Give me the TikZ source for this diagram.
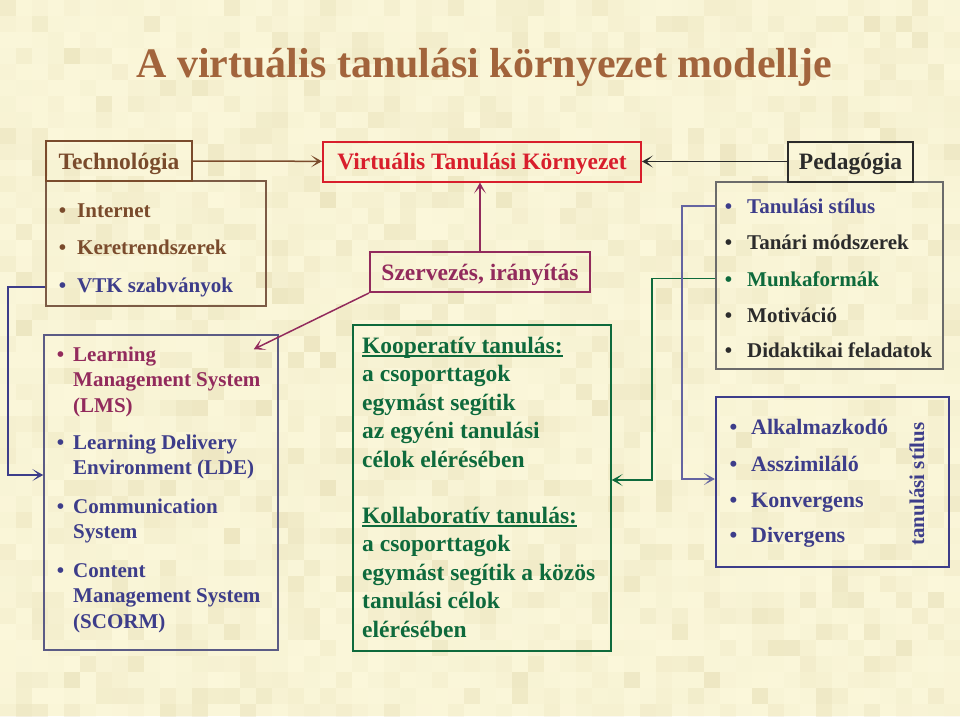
\documentclass[tikz,border=0pt]{standalone}
\usepackage{fontspec}
\setmainfont{Liberation Serif}
\usetikzlibrary{arrows.meta}
\definecolor{paper}{HTML}{FBF7DA}
\definecolor{mottle}{HTML}{D6CB98}
\definecolor{brownc}{HTML}{7A4B2C}
\definecolor{titlec}{HTML}{A2643C}
\definecolor{bluec}{HTML}{3D3D8A}
\definecolor{redc}{HTML}{D81E2C}
\definecolor{plumc}{HTML}{922A5C}
\definecolor{greenc}{HTML}{0E6A3C}
\definecolor{darkc}{HTML}{2B2B2B}
\newcommand\itembul[1][11pt]{\llap{\textbullet\hspace{#1}}}
\newcommand\ulbox[1]{\setbox0\hbox{#1}\rlap{\rule[-3.5pt]{\wd0}{1.3pt}}\box0}
\begin{document}
\begin{tikzpicture}[x=1pt,y=-1pt,
  head/.style={draw, line width=2pt, inner sep=0pt, minimum height=40pt,
    text height=20pt, text depth=4pt,
    font=\fontsize{23.5}{28}\selectfont\bfseries},
  panel/.style={draw, line width=1.5pt, inner sep=0pt},
  entry/.style={anchor=base west, align=left, inner sep=0pt,
    font=\fontsize{21}{25.5}\selectfont\bfseries},
  note/.style={anchor=base west, align=left, inner sep=0pt, text=greenc,
    font=\fontsize{23.5}{28.5}\selectfont\bfseries},
  link/.style={line width=1.5pt, -{Stealth[length=11pt,width=12pt,inset=6.5pt]}}
]
% background
\useasboundingbox (0,0) rectangle (960,716);
\fill[paper] (0,0) rectangle (960,716);
\pgfmathsetseed{11}
\foreach \i in {0,...,59}{
  \foreach \j in {0,...,44}{
    \pgfmathsetmacro\op{0.38*rnd*rnd}
    \fill[mottle, opacity=\op] (\i*16,\j*16) rectangle ++(16,16);
  }
}

% title
\node[anchor=base, text=titlec, font=\fontsize{42}{50}\selectfont\bfseries] (title) at (484,77)
  {A virtuális tanulási környezet modellje};

% panels
\node[panel, draw=brownc!70!gray, minimum width=220pt, minimum height=125pt] (techlist) at (156,243.5) {};
\node[panel, draw=bluec!55!gray, minimum width=234pt, minimum height=315pt] (lms) at (161,492.5) {};
\node[panel, draw=greenc, minimum width=258pt, minimum height=326pt] (koop) at (482,488) {};
\node[panel, draw=darkc!70, minimum width=227pt, minimum height=187pt] (pedlist) at (829.5,275.5) {};
\node[panel, draw=bluec, line width=2.2pt, minimum width=233pt, minimum height=170pt] (stilus) at (832.5,482) {};

% headers
\node[head, draw=brownc, text=brownc, minimum width=146pt] (tech) at (119,161) {Technológia};
\node[head, draw=redc, text=redc, minimum width=318pt] (vtk) at (482,161.5) {Virtuális Tanulási Környezet};
\node[head, draw=darkc, text=darkc, minimum width=125pt] (ped) at (850.5,161.5) {Pedagógia};
\node[head, draw=plumc, text=plumc, minimum width=220pt] (szerv) at (480,272) {Szervezés, irányítás};

% technology items
\node[entry, text=brownc] (t1) at (77,217) {\itembul Internet};
\node[entry, text=brownc] (t2) at (77,254) {\itembul Keretrendszerek};
\node[entry, text=bluec]  (t3) at (77,292) {\itembul VTK szabványok};

% system items (base = last line)
\node[entry, text=plumc] (l1) at (73,412) {\itembul[9pt]Learning\\Management System\\(LMS)};
\node[entry, text=bluec] (l2) at (73,474.5) {\itembul[9pt]Learning Delivery\\Environment (LDE)};
\node[entry, text=bluec] (l3) at (73,538.5) {\itembul[9pt]Communication\\System};
\node[entry, text=bluec] (l4) at (73,628) {\itembul[9pt]Content\\Management System\\(SCORM)};

% work forms (base = last line)
\node[note] (k1) at (362,467) {\ulbox{Kooperatív tanulás:}\\a csoporttagok\\egymást segítik\\az egyéni tanulási\\célok elérésében};
\node[note] (k2) at (362,637) {\ulbox{Kollaboratív tanulás:}\\a csoporttagok\\egymást segítik a közös\\tanulási célok\\elérésében};

% pedagogy items
\node[entry, text=bluec]  (p1) at (747,213) {\itembul[15pt]Tanulási stílus};
\node[entry, text=darkc]  (p2) at (747,249) {\itembul[15pt]Tanári módszerek};
\node[entry, text=greenc] (p3) at (747,286) {\itembul[15pt]Munkaformák};
\node[entry, text=darkc]  (p4) at (747,322) {\itembul[15pt]Motiváció};
\node[entry, text=darkc]  (p5) at (747,357) {\itembul[15pt]Didaktikai feladatok};

% learning styles
\node[entry, text=bluec, font=\fontsize{22}{26}\selectfont\bfseries] (s1) at (751,434) {\itembul[14pt]Alkalmazkodó};
\node[entry, text=bluec, font=\fontsize{22}{26}\selectfont\bfseries] (s2) at (751,471) {\itembul[14pt]Asszimiláló};
\node[entry, text=bluec, font=\fontsize{22}{26}\selectfont\bfseries] (s3) at (751,507) {\itembul[14pt]Konvergens};
\node[entry, text=bluec, font=\fontsize{22}{26}\selectfont\bfseries] (s4) at (751,542) {\itembul[14pt]Divergens};
\node[rotate=90, text=bluec, inner sep=0pt, font=\fontsize{21}{25}\selectfont\bfseries] (stlabel) at (917,484) {tanulási stílus};

% connectors
\coordinate (lmsin) at ([xshift=-25pt,yshift=-15pt]lms.north east);
\coordinate (lbend) at (8,475);
\coordinate (gbend) at (652,480);
\coordinate (rbend) at (682,479);
\draw[link, brownc] (tech) -- (vtk);
\draw[link, darkc] (ped) -- (vtk);
\draw[link, plumc] (szerv.north) -- (szerv.north |- vtk.south);
\draw[link, plumc] (szerv.south west) -- (lmsin);
\draw[link, bluec] (techlist.west |- t3) -| (lbend) -- (lbend -| lms.west);
\draw[link, greenc] (pedlist.west |- p3) -| (gbend) -- (gbend -| koop.east);
\draw[link, bluec!80] (pedlist.west |- p1) -| (rbend) -- (rbend -| stilus.west);
\end{tikzpicture}
\end{document}
